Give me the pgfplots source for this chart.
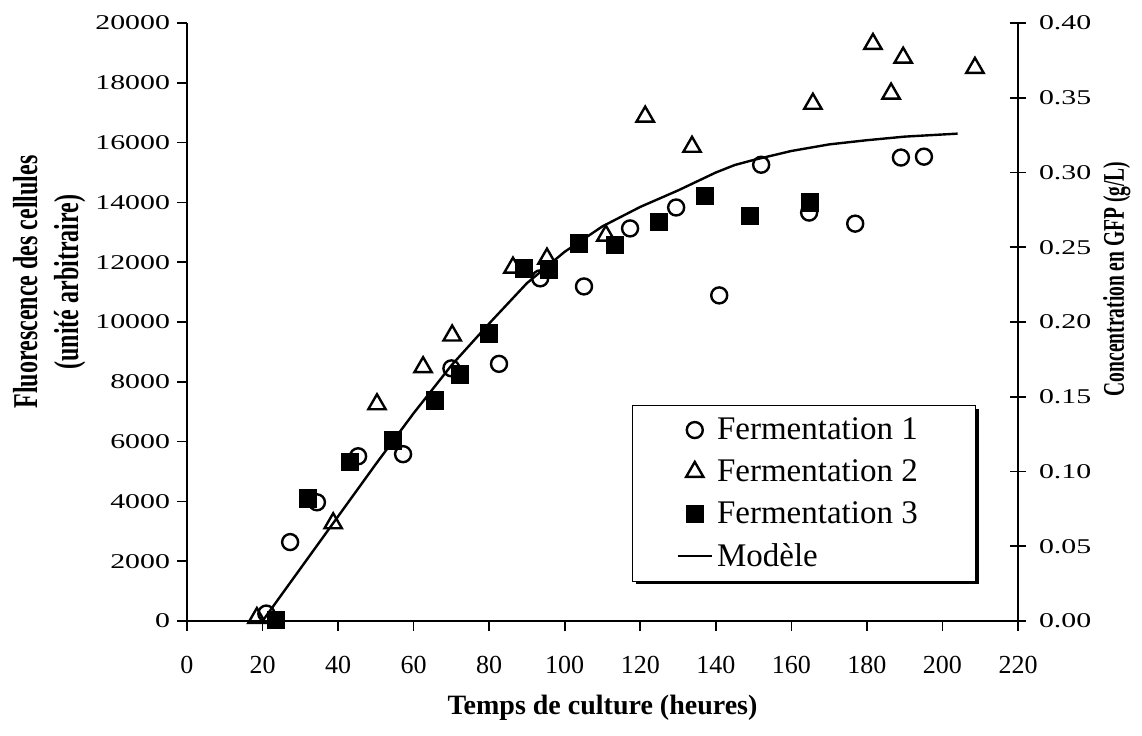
\documentclass[border=0pt]{standalone}
\usepackage{fontspec}
\setmainfont{Liberation Serif}
\newfontfamily\wideserif[FakeStretch=1.42]{Liberation Serif}
\newfontfamily\condserif[FakeStretch=0.69]{Liberation Serif}
\newfontfamily\condserifb[FakeStretch=0.65]{Liberation Serif}
\usepackage{pgfplots}
\pgfplotsset{compat=1.18}
\usetikzlibrary{shadows}
\makeatletter
\tikzset{nopreact/.code={\let\tikz@preactions\pgfutil@empty}}
\makeatother
\pgfplotsset{lineimage/.style={legend image code/.code={\draw[nopreact,##1] (0cm,0cm) -- (0.6cm,0cm);}}}

\begin{document}
\begin{tikzpicture}
\begin{axis}[
    name=ax,
    scale only axis,
    width=415.5pt, height=299pt,
    xmin=0, xmax=220, ymin=0, ymax=20000,
    clip=false,
    scaled y ticks=false,
    axis x line*=bottom, axis y line*=left,
    axis line style={line width=1pt, -},
    xtick={0,20,...,220},
    ytick={0,2000,...,20000},
    tick style={line width=0.8pt, black},
    tick align=outside,
    major tick length=5pt,
    /pgf/number format/assume math mode=true,
    /pgf/number format/1000 sep={},
    xticklabel style={font=\fontsize{13}{15}\selectfont, yshift=-9pt},
    yticklabel style={font=\wideserif\fontsize{10.5}{12}\selectfont},
    xlabel={Temps de culture (heures)},
    xlabel style={font=\bfseries\fontsize{14}{17}\selectfont, yshift=-4pt},
    ylabel={Fluorescence des cellules\\(unité arbitraire)},
    ylabel style={font=\condserif\bfseries\fontsize{17.4}{20.5}\selectfont, align=center,
        at={(ticklabel cs:0.567,-2pt)}},
    legend style={at={(0.5355,0.361)}, anchor=north west, draw=black, line width=0.5pt,
        fill=white, inner xsep=22pt, inner ysep=4pt, row sep=4.5pt,
        font=\fontsize{16.5}{19}\selectfont,
        drop shadow={shadow xshift=1.6pt, shadow yshift=-1.6pt, fill=black, opacity=1}},
    legend cell align=left,
]
% Fermentation 1
\addplot[only marks, mark=o, mark size=4pt, mark options={line width=1.2pt, fill=white}] coordinates {
(21,250) (27.3,2640) (34.4,3970) (45.3,5510) (57.2,5580) (70,8450) (82.6,8600)
(93.5,11460) (105.1,11190) (117.3,13130) (129.5,13830) (140.9,10890) (152,15260)
(164.7,13660) (176.9,13290) (189,15500) (195.1,15530)};
% Fermentation 2
\addplot[only marks, mark=triangle, mark size=5pt, mark options={line width=1.2pt, fill=white}] coordinates {
(18.5,100) (38.7,3270) (50.3,7250) (62.5,8490) (70.2,9550) (86.3,11820) (95.3,12120)
(110.9,12890) (121.3,16870) (133.7,15860) (165.7,17300) (181.6,19300) (186.4,17640)
(189.6,18840) (208.6,18500)};
% Fermentation 3
\addplot[only marks, mark=square*, mark size=4.3pt, mark options={fill=black, draw=black}] coordinates {
(23.5,50) (32,4100) (43.2,5310) (54.5,6040) (65.7,7380) (72.3,8250) (80,9620)
(89.2,11790) (95.8,11760) (103.8,12630) (113.3,12590) (125,13360) (137.1,14230)
(149,13560) (165,14000)};
% Modele
\addplot[black, line width=1.2pt, mark=none, lineimage] coordinates {
(20,0) (30,1750) (40,3500) (50,5250) (60,6950) (70,8550) (80,9950) (90,11300)
(100,12350) (110,13200) (120,13850) (130,14400) (140,15000) (145,15250) (150,15420)
(160,15720) (170,15940) (180,16080) (190,16200) (204,16300)};
\legend{Fermentation 1\hspace*{5pt}\mbox{}, Fermentation 2, Fermentation 3, Modèle}
\end{axis}
\begin{axis}[
    scale only axis,
    width=415.5pt, height=299pt,
    xmin=0, xmax=220, ymin=0, ymax=0.4,
    axis x line=none, axis y line*=right,
    axis line style={line width=1pt, -},
    ytick={0,0.05,...,0.4},
    tick style={line width=0.8pt, black},
    tick align=center,
    major tick length=8pt,
    /pgf/number format/assume math mode=true,
    /pgf/number format/.cd, fixed, fixed zerofill, precision=2,
    /pgfplots/.cd,
    yticklabel style={font=\wideserif\fontsize{10.5}{12}\selectfont, xshift=3pt},
    ylabel={Concentration en GFP (g/L)},
    ylabel style={font=\condserifb\bfseries\fontsize{15}{18}\selectfont, at={(ticklabel cs:0.572,-1pt)}},
]
\addplot[draw=none, forget plot] coordinates {(0,0) (220,0.4)};
\end{axis}
\pgfresetboundingbox
\path[use as bounding box] ([xshift=-93.5pt,yshift=-57pt]ax.south west) rectangle ([xshift=62pt,yshift=11.5pt]ax.north east);
\end{tikzpicture}
\end{document}
